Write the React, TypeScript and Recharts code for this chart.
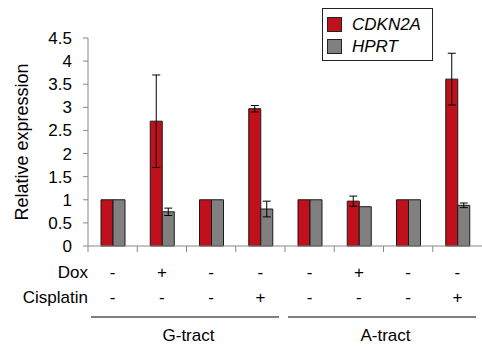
import React from "react";
import { BarChart, Bar, XAxis, YAxis, ErrorBar, Legend } from "recharts";

const conditions = ["G1", "G2", "G3", "G4", "A1", "A2", "A3", "A4"];
const dox = ["-", "+", "-", "-", "-", "+", "-", "-"];
const cisplatin = ["-", "-", "-", "+", "-", "-", "-", "+"];
const groups = ["G-tract", "A-tract"];
const cdkn2a = [1, 2.7, 1, 2.97, 1, 0.97, 1, 3.61];
const cdkn2aErr = [0, 1.0, 0, 0.07, 0, 0.11, 0, 0.56];
const hprt = [1, 0.74, 1, 0.8, 1, 0.85, 1, 0.88];
const hprtErr = [0, 0.08, 0, 0.17, 0, 0, 0, 0.05];
const yTicks = [0, 0.5, 1, 1.5, 2, 2.5, 3, 3.5, 4, 4.5];

const RED = "#C0101C";
const GREY = "#808080";

const data = conditions.map((c, i) => ({
  key: c,
  dox: dox[i],
  cis: cisplatin[i],
  cdkn2a: cdkn2a[i],
  cdkn2aErr: cdkn2aErr[i],
  hprt: hprt[i],
  hprtErr: hprtErr[i],
}));

const CondTick = (props: any) => {
  const { x, y, payload, index } = props;
  const half = payload && payload.offset ? payload.offset : 24.6;
  const band = half * 2;
  const x0 = x - half;
  const i = index;
  const fs = 17;
  return (
    <g>
      <line x1={x0} y1={y} x2={x0} y2={y + 6} stroke="#888" />
      {i === 0 && (
        <>
          <text x={x0} y={y + 32} textAnchor="end" fontSize={fs} fill="#000">Dox</text>
          <text x={x0} y={y + 57} textAnchor="end" fontSize={fs} fill="#000">Cisplatin</text>
        </>
      )}
      <text x={x} y={y + 32} textAnchor="middle" fontSize={fs} fill="#000">{data[i].dox}</text>
      <text x={x} y={y + 57} textAnchor="middle" fontSize={fs} fill="#000">{data[i].cis}</text>
      {i % 4 === 0 && (
        <>
          <line x1={x0 + 3} y1={y + 71} x2={x0 + 4 * band - 6} y2={y + 71} stroke="#000" />
          <text x={x0 + 2 * band + 2} y={y + 95} textAnchor="middle" fontSize={fs} fill="#000">
            {groups[i / 4]}
          </text>
        </>
      )}
    </g>
  );
};

const LegendBox = () => (
  <div style={{ border: "1px solid #222", width: 111, height: 53, boxSizing: "border-box", background: "#fff", padding: "5px 0 0 4px" }}>
    {[
      { name: "CDKN2A", color: RED },
      { name: "HPRT", color: GREY },
    ].map((it) => (
      <div key={it.name} style={{ display: "flex", alignItems: "center", height: 21, marginBottom: 1 }}>
        <span style={{ display: "inline-block", width: 15, height: 15, background: it.color, border: "1px solid #222", boxSizing: "border-box", marginRight: 10 }} />
        <span style={{ fontStyle: "italic", fontSize: 17, color: "#000" }}>{it.name}</span>
      </div>
    ))}
  </div>
);

export default function App() {
  return (
    <div style={{ position: "absolute", left: 0, top: 0, width: 482, height: 347, background: "#fff", fontFamily: "'Liberation Sans', Arial, sans-serif" }}>
      <BarChart width={482} height={347} data={data} margin={{ top: 38, right: 0, left: 0, bottom: 0 }} barGap={0} barSize={12}>
        <XAxis
          dataKey="key"
          height={101}
          interval={0}
          tickLine={false}
          tickSize={0}
          tickMargin={0}
          axisLine={{ stroke: "#888" }}
          tick={<CondTick />}
        />
        <YAxis
          width={88}
          domain={[0, 4.5]}
          ticks={yTicks}
          interval={0}
          tickSize={5}
          tickMargin={11}
          axisLine={{ stroke: "#888" }}
          tickLine={{ stroke: "#888" }}
          tick={{ fill: "#000", fontSize: 17 }}
          label={{ value: "Relative expression", angle: -90, position: "insideLeft", offset: 22, style: { textAnchor: "middle", fontSize: 18, fill: "#000" } }}
        />
        <Legend
          layout="vertical"
          align="center"
          verticalAlign="middle"
          content={<LegendBox />}
          wrapperStyle={{ position: "absolute", left: 322, top: 8, width: 111 }}
        />
        <Bar dataKey="cdkn2a" name="CDKN2A" fill={RED} stroke="#1a1a1a" strokeWidth={1} isAnimationActive={false}>
          <ErrorBar dataKey="cdkn2aErr" width={4} stroke="#000" strokeWidth={1} isAnimationActive={false} />
        </Bar>
        <Bar dataKey="hprt" name="HPRT" fill={GREY} stroke="#1a1a1a" strokeWidth={1} isAnimationActive={false}>
          <ErrorBar dataKey="hprtErr" width={4} stroke="#000" strokeWidth={1} isAnimationActive={false} />
        </Bar>
      </BarChart>
    </div>
  );
}
